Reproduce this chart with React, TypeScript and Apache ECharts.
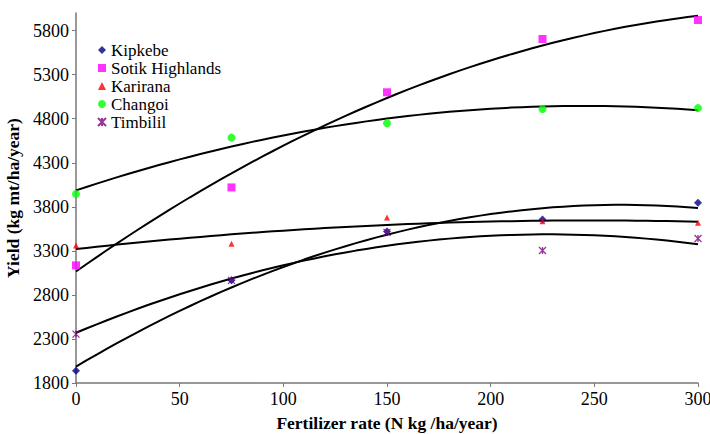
import React, { useEffect, useRef } from "react";
import * as echarts from "echarts";

const xValues = [0, 75, 150, 225, 300];
const kipkebe = [1940, 2965, 3520, 3655, 3845];
const sotik = [3135, 4020, 5100, 5705, 5920];
const karirana = [3360, 3380, 3680, 3635, 3620];
const changoi = [3945, 4585, 4748, 4910, 4920];
const timbilil = [2355, 2965, 3510, 3305, 3440];
const yTicks = [1800, 2300, 2800, 3300, 3800, 4300, 4800, 5300, 5800];
const xTicks = [0, 50, 100, 150, 200, 250, 300];

const seriesDefs = [
  { name: "Kipkebe", data: kipkebe, color: "#000080", symbol: "diamond", size: 8 },
  { name: "Sotik Highlands", data: sotik, color: "#FF00FF", symbol: "rect", size: 8 },
  { name: "Karirana", data: karirana, color: "#FF0000", symbol: "triangle", size: 6 },
  { name: "Changoi", data: changoi, color: "#00FF00", symbol: "circle", size: 8 },
  { name: "Timbilil", data: timbilil, color: "#800080", symbol: "path://M0,0L10,10M10,0L0,10M5,0L5,10", size: 7 },
];

// least-squares quadratic trendline (Excel polynomial, order 2)
function quadFit(xs: number[], ys: number[]) {
  let s0 = 0, s1 = 0, s2 = 0, s3 = 0, s4 = 0, t0 = 0, t1 = 0, t2 = 0;
  for (let i = 0; i < xs.length; i++) {
    const x = xs[i], y = ys[i];
    s0 += 1; s1 += x; s2 += x * x; s3 += x * x * x; s4 += x * x * x * x;
    t0 += y; t1 += x * y; t2 += x * x * y;
  }
  const M = [
    [s0, s1, s2, t0],
    [s1, s2, s3, t1],
    [s2, s3, s4, t2],
  ];
  for (let c = 0; c < 3; c++) {
    let p = c;
    for (let r = c + 1; r < 3; r++) if (Math.abs(M[r][c]) > Math.abs(M[p][c])) p = r;
    [M[c], M[p]] = [M[p], M[c]];
    for (let r = 0; r < 3; r++) {
      if (r === c) continue;
      const f = M[r][c] / M[c][c];
      for (let k = c; k < 4; k++) M[r][k] -= f * M[c][k];
    }
  }
  const a = M[0][3] / M[0][0], b = M[1][3] / M[1][1], cc = M[2][3] / M[2][2];
  return (x: number) => a + b * x + cc * x * x;
}

export default function App() {
  const ref = useRef<HTMLDivElement>(null);
  useEffect(() => {
    if (!ref.current) return;
    const chart = echarts.init(ref.current, undefined, { renderer: "svg" });
    const font = "Liberation Serif";
    const scatter = seriesDefs.map((s) => ({
      name: s.name,
      type: "scatter",
      symbol: s.symbol,
      symbolSize: s.size,
      z: 3,
      itemStyle:
        s.name === "Timbilil"
          ? { color: "transparent", borderColor: s.color, borderWidth: 1.3 }
          : { color: s.color },
      data: s.data.map((v, i) => [xValues[i], v]),
    }));
    const trends = seriesDefs.map((s) => {
      const f = quadFit(xValues, s.data);
      const pts: number[][] = [];
      for (let x = 0; x <= 300; x += 5) pts.push([x, f(x)]);
      return {
        name: s.name + " trend",
        type: "line",
        showSymbol: false,
        symbol: "none",
        smooth: false,
        z: 2,
        lineStyle: { color: "#000", width: 2 },
        data: pts,
      };
    });
    chart.setOption({
      animation: false,
      backgroundColor: "#fff",
      textStyle: { fontFamily: font },
      grid: { left: 76, right: 12, top: 13, bottom: 51, containLabel: false, outerBoundsMode: "none" },
      legend: {
        orient: "vertical",
        left: 97,
        top: 41,
        padding: 0,
        itemWidth: 8,
        itemHeight: 8,
        itemGap: 0,
        data: seriesDefs.map((s) => s.name),
        textStyle: { fontFamily: font, fontSize: 17, color: "#000", lineHeight: 18 },
      },
      xAxis: {
        type: "value",
        min: 0,
        max: 300,
        interval: 50,
        name: "Fertilizer rate (N kg /ha/year)",
        nameLocation: "middle",
        nameGap: 31,
        nameTextStyle: { fontFamily: font, fontSize: 17.5, fontWeight: "bold", color: "#000" },
        splitLine: { show: false },
        axisLine: { lineStyle: { color: "#777", width: 1.5 } },
        axisTick: { show: true, length: 4, lineStyle: { color: "#777" }, customValues: xTicks },
        axisLabel: { fontFamily: font, fontSize: 18, color: "#000", margin: 7, customValues: xTicks, formatter: (v: number) => String(v) },
      },
      yAxis: {
        type: "value",
        min: 1800,
        max: 6000,
        name: "Yield (kg mt/ha/year)",
        nameLocation: "middle",
        nameGap: 48,
        nameRotate: 90,
        nameTextStyle: { fontFamily: font, fontSize: 17.5, fontWeight: "bold", color: "#000" },
        splitLine: { show: false },
        axisLine: { show: true, lineStyle: { color: "#777", width: 1.5 } },
        axisTick: { show: true, length: 4, lineStyle: { color: "#777" }, customValues: yTicks },
        axisLabel: { fontFamily: font, fontSize: 18, color: "#000", margin: 7, customValues: yTicks, formatter: (v: number) => String(v) },
      },
      series: [...trends, ...scatter],
    });
    return () => chart.dispose();
  }, []);
  return <div ref={ref} style={{ width: 710, height: 434, position: "absolute", left: 0, top: 0 }} />;
}
